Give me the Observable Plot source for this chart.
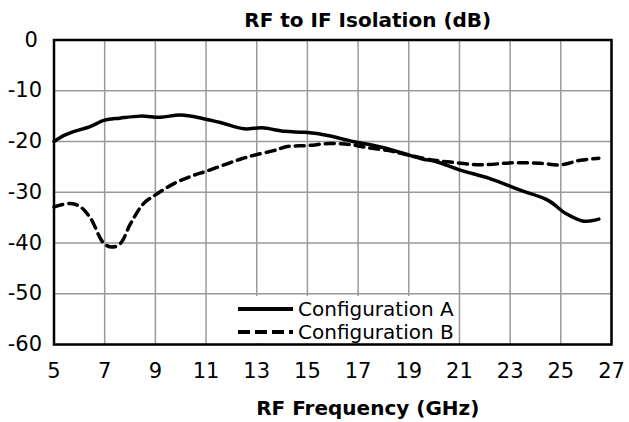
<!DOCTYPE html>
<html>
<head>
<meta charset="utf-8">
<script src="https://cdn.jsdelivr.net/npm/d3@7"></script>
<script src="https://cdn.jsdelivr.net/npm/@observablehq/plot@0.6"></script>
<style>
  html, body { margin: 0; padding: 0; background: #fff; }
  #wrap { position: relative; width: 629px; height: 422px; font-family: "DejaVu Sans", sans-serif; }
  #legend { position: absolute; left: 231px; top: 296px; width: 226px; height: 47px; background: #fff;
            font-size: 20px; color: #000; }
  #legend .row { position: absolute; left: 7px; display: flex; align-items: center; height: 23px; }
  #legend svg { margin-right: 5px; }
</style>
</head>
<body>
<div id="wrap"></div>
<script>
// Data
const freqA = [5, 5.4, 5.8, 6.4, 7.0, 7.6, 8.4, 9.2, 10.0, 10.9, 11.6, 12.5, 13.2, 14.1, 14.9, 15.8, 16.8, 17.8, 18.7, 19.5, 20.1, 21.0, 22.2, 23.4, 24.5, 25.2, 25.9, 26.5];
const dbA   = [-20, -18.8, -18.0, -17.1, -15.8, -15.4, -15.0, -15.2, -14.8, -15.5, -16.3, -17.5, -17.3, -18.0, -18.2, -18.8, -20.0, -21.0, -22.2, -23.4, -24.0, -25.6, -27.3, -29.6, -31.6, -34.2, -35.7, -35.3];
const freqB = [5, 5.65, 6.05, 6.45, 6.97, 7.3, 7.62, 8.02, 8.54, 9.07, 9.73, 10.38, 11.04, 11.83, 12.4, 12.9, 13.67, 14.2, 15.0, 15.9, 16.7, 17.35, 18.15, 19.0, 20.0, 20.64, 21.8, 23.1, 24.2, 25.0, 25.77, 26.5];
const dbB   = [-32.9, -32.2, -32.9, -35.2, -40.1, -40.8, -40.1, -36.2, -32.2, -30.3, -28.3, -26.9, -25.8, -24.4, -23.4, -22.7, -21.8, -21.0, -20.8, -20.4, -20.6, -21.2, -21.75, -22.7, -23.7, -24.05, -24.6, -24.2, -24.3, -24.6, -23.7, -23.3];
const seriesNames = ["Configuration A", "Configuration B"];
const xTicks = [5, 7, 9, 11, 13, 15, 17, 19, 21, 23, 25, 27];
const yTicks = [0, -10, -20, -30, -40, -50, -60];
const titleText = "RF to IF Isolation (dB)";
const xLabel = "RF Frequency (GHz)";

const A = freqA.map((f, i) => ({f, db: dbA[i]}));
const B = freqB.map((f, i) => ({f, db: dbB[i]}));

const font = "DejaVu Sans, sans-serif";
const chart = Plot.plot({
  width: 629, height: 422,
  marginLeft: 53.5, marginRight: 18, marginTop: 39.5, marginBottom: 78,
  style: {fontFamily: font, background: "#fff"},
  x: {domain: [5, 27]},
  y: {domain: [-60, 0]},
  marks: [
    Plot.gridX(xTicks, {stroke: "#999", strokeOpacity: 1, strokeWidth: 1.5}),
    Plot.gridY(yTicks, {stroke: "#999", strokeOpacity: 1, strokeWidth: 1.5}),
    Plot.line(A, {x: "f", y: "db", curve: "catmull-rom", stroke: "#000", strokeWidth: 3.5}),
    Plot.line(B, {x: "f", y: "db", curve: "catmull-rom", stroke: "#000", strokeWidth: 3.5, strokeDasharray: "9,6"}),
    Plot.frame({stroke: "#000", strokeWidth: 2.5}),
    Plot.axisX(xTicks, {tickSize: 0, tickPadding: 19, fontSize: 21, label: null, fill: "#000"}),
    Plot.axisY(yTicks, {tickSize: 0, tickPadding: 12, fontSize: 21, label: null, fill: "#000",
                        tickFormat: d => d === 0 ? "0\u2009" : String(d)}),
    Plot.text([titleText], {frameAnchor: "top", lineAnchor: "middle", dx: 35, dy: -19.5, fontSize: 20, fontWeight: "bold", fill: "#000"}),
    Plot.text([xLabel], {frameAnchor: "bottom", lineAnchor: "middle", dx: 35, dy: 64, fontSize: 20, fontWeight: "bold", fill: "#000"})
  ]
});

const wrap = document.getElementById("wrap");
wrap.appendChild(chart);

// Legend
const legend = document.createElement("div");
legend.id = "legend";
seriesNames.forEach((name, i) => {
  const row = document.createElement("div");
  row.className = "row";
  row.style.top = (i * 23 + 1) + "px";
  const s = d3.create("svg").attr("width", 55).attr("height", 10);
  s.append("line").attr("x1", 0).attr("x2", 55).attr("y1", 5).attr("y2", 5)
    .attr("stroke", "#000").attr("stroke-width", 4)
    .attr("stroke-dasharray", i === 1 ? "12,5" : null);
  row.appendChild(s.node());
  const t = document.createElement("span");
  t.textContent = name;
  row.appendChild(t);
  legend.appendChild(row);
});
wrap.appendChild(legend);
</script>
</body>
</html>
